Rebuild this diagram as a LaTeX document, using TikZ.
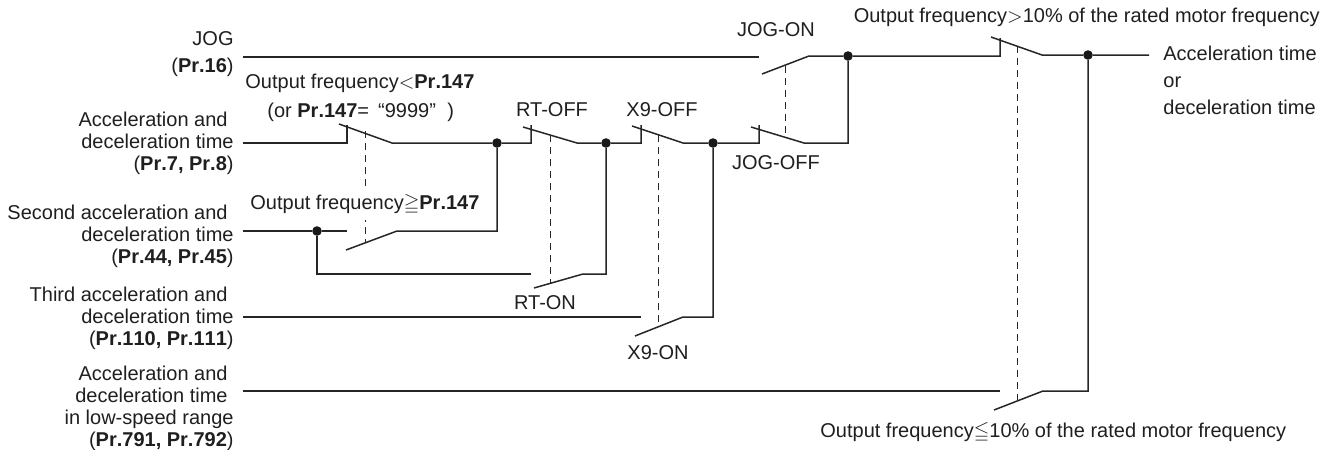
\documentclass[tikz,border=0pt]{standalone}
\usepackage{amssymb}
\usepackage{fontspec}
\setmainfont{Liberation Sans}[BoldFeatures={Kerning=Off}]
\usetikzlibrary{positioning}
\newcommand{\prm}[1]{\textbf{Pr.#1}}

\begin{document}
\begin{tikzpicture}[
  x=0.5pt, y=-0.5pt,
  txt/.style={inner sep=0pt, text=black!88, font=\fontsize{10}{11}\selectfont},
  source/.style={txt, anchor=east, align=right},
  wire/.style={line width=0.75pt, black!85, line join=miter},
  ganged/.style={line width=0.5pt, black!85, dash pattern=on 3.5pt off 2.5pt},
  junction/.style={circle, fill=black!90, inner sep=0pt, minimum size=4.8pt}
]
\useasboundingbox (0,0) rectangle (1335,450);

% labels on the left
\node[source] (jogsrc) at (234,54.5) {JOG\\[2.5pt](\prm{16})};
\node[source] (stdsrc) at (234,143) {Acceleration and\kern3pt\\deceleration time\\(\textbf{Pr.7, Pr.8})};
\node[source] (secsrc) at (234,236) {Second acceleration and\kern3pt\\deceleration time\\(\textbf{Pr.44, Pr.45})};
\node[source] (thdsrc) at (234,318) {Third acceleration and\kern3pt\\deceleration time\\(\textbf{Pr.110, Pr.111})};
\node[source] (lowsrc) at (234,408) {Acceleration and\kern3pt\\deceleration time\kern3pt\\in low-speed range\\(\textbf{Pr.791, Pr.792})};

% switch points
\coordinate (jogIn) at (243,57);    \coordinate (jogEnd) at (759,57);
\coordinate (stdIn) at (243,143);   \coordinate (secIn) at (243,231);
\coordinate (thdIn) at (243,317);   \coordinate (lowIn) at (243,391);
\coordinate (aPost) at (347,143);   \coordinate (aTop) at (347,125);
\coordinate (aTip) at (339,124);    \coordinate (aOut) at (392,143);
\coordinate (bEnd) at (347,231);    \coordinate (bTip) at (346,250);
\coordinate (bOut) at (397,231);    \coordinate (bCorner) at (497,231);
\coordinate (cPost) at (531,143);   \coordinate (cTop) at (531,125);
\coordinate (cTip) at (523,127);    \coordinate (cOut) at (577,143);
\coordinate (dStart) at (317,274);  \coordinate (dEnd) at (531,274);
\coordinate (dTip) at (534,288);    \coordinate (dOut) at (583,274);
\coordinate (dCorner) at (606,274);
\coordinate (ePost) at (641,143);   \coordinate (eTop) at (641,125);
\coordinate (eTip) at (632,126);    \coordinate (eOut) at (683,143);
\coordinate (fEnd) at (641,317);    \coordinate (fTip) at (635,336);
\coordinate (fOut) at (683,317);    \coordinate (fCorner) at (713,317);
\coordinate (gPost) at (759,143);   \coordinate (gTop) at (759,125);
\coordinate (gTip) at (751,127);    \coordinate (gOut) at (804,143);
\coordinate (gCorner) at (848,143);
\coordinate (hTip) at (762,74);     \coordinate (hOut) at (809,56);
\coordinate (kPost) at (1000,56);   \coordinate (kTop) at (1000,38);
\coordinate (kTip) at (991,37);     \coordinate (kOut) at (1042,55);
\coordinate (mEnd) at (1000,391);   \coordinate (mTip) at (994,410);
\coordinate (mOut) at (1043,391);   \coordinate (mCorner) at (1088,391);
\coordinate (finish) at (1149,55);

% junctions
\node[junction] (j1) at (497,143) {};
\node[junction] (j2) at (317,231) {};
\node[junction] (j3) at (606,143) {};
\node[junction] (j4) at (713,143) {};
\node[junction] (j5) at (848,56) {};
\node[junction] (j6) at (1088,55) {};

% wires
\draw[wire] (jogIn) -- (jogEnd);
\draw[wire] (stdIn) -- (aPost) -- (aTop);
\draw[wire] (aTip) -- (aOut) -- (j1) -- (cPost) -- (cTop);
\draw[wire] (secIn) -- (j2) -- (bEnd);
\draw[wire] (bTip) -- (bOut) -- (bCorner) -- (j1);
\draw[wire] (j2) -- (dStart) -- (dEnd);
\draw[wire] (cTip) -- (cOut) -- (j3) -- (ePost) -- (eTop);
\draw[wire] (dTip) -- (dOut) -- (dCorner) -- (j3);
\draw[wire] (thdIn) -- (fEnd);
\draw[wire] (eTip) -- (eOut) -- (j4) -- (gPost) -- (gTop);
\draw[wire] (fTip) -- (fOut) -- (fCorner) -- (j4);
\draw[wire] (gTip) -- (gOut) -- (gCorner) -- (j5);
\draw[wire] (hTip) -- (hOut) -- (j5) -- (kPost) -- (kTop);
\draw[wire] (kTip) -- (kOut) -- (j6) -- (finish);
\draw[wire] (lowIn) -- (mEnd);
\draw[wire] (mTip) -- (mOut) -- (mCorner) -- (j6);

% linked contacts
\coordinate (aLink) at (365,131);  \coordinate (bLink) at (365,243);
\coordinate (cLink) at (550,135);  \coordinate (dLink) at (550,283);
\coordinate (eLink) at (658,135);  \coordinate (fLink) at (658,326);
\coordinate (gLink) at (785,136);  \coordinate (hLink) at (785,66);
\coordinate (kLink) at (1017,46);  \coordinate (mLink) at (1017,400);
\foreach \from/\to in {aLink/bLink,cLink/dLink,eLink/fLink,hLink/gLink,kLink/mLink}
  \draw[ganged] (\from) -- (\to);

% switch labels
\node[txt, anchor=west] (lt147) at (245,83) {Output frequency$<$\prm{147}};
\node[txt, anchor=west] (or147) at (267,112) {(or \prm{147}=\kern4.5pt “9999”\kern3pt\ )};
\node[txt, anchor=west, fill=white, inner ysep=3pt] (ge147) at (250,204) {Output frequency$\geqq$\prm{147}};
\node[txt] (rtoff) at (552,110) {RT-OFF};
\node[txt] (rton) at (545,303) {RT-ON};
\node[txt] (xoff) at (662,110) {X9-OFF};
\node[txt] (xon) at (658,353) {X9-ON};
\node[txt] (jogon) at (776,30) {JOG-ON};
\node[txt] (jogoff) at (776,163) {JOG-OFF};
\node[txt, anchor=east] (gt10) at (1320,17) {Output frequency$>$10\% of the rated motor frequency};
\node[txt, anchor=west] (le10) at (820,432) {Output frequency$\leqq$10\% of the rated motor frequency};
\node[txt, anchor=west, align=left] (result) at (1163,80) {Acceleration time\\[2.5pt]or\\[2.5pt]deceleration time};
\end{tikzpicture}
\end{document}
